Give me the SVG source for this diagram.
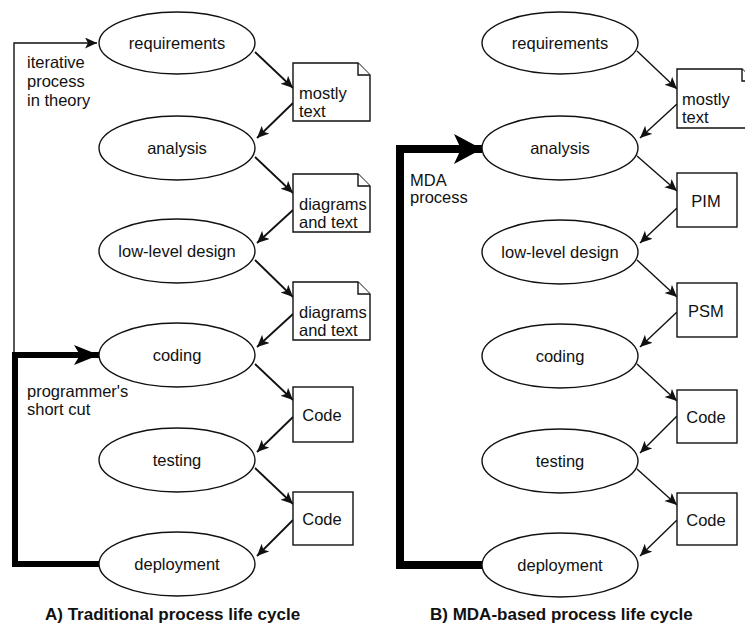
<svg xmlns="http://www.w3.org/2000/svg" width="745" height="631" viewBox="0 0 745 631">
  <defs>
    <style>
      .node ellipse, .node rect, .node path { fill: #fff; stroke: #111; stroke-width: 1.4; }
      .fold { fill: none; stroke: #111; stroke-width: 1.2; }
      text { font-family: "Liberation Sans", Arial, sans-serif; font-size: 16.5px; fill: #111; }
      .mid { text-anchor: middle; }
      .cap { font-weight: bold; font-size: 17px; }
      .flow { fill: none; stroke: #111; stroke-width: 1.8; marker-end: url(#head); }
      .flowB { fill: none; stroke: #111; stroke-width: 1.4; marker-end: url(#head); }
      .loop { fill: none; stroke: #111; stroke-width: 1.4; }
      .thick { fill: none; stroke: #000; stroke-width: 6; }
      .thickB { fill: none; stroke: #000; stroke-width: 8; }
    </style>
    <marker id="head" markerUnits="userSpaceOnUse" markerWidth="14" markerHeight="12" refX="12" refY="5.5" orient="auto">
      <path d="M0,0 L12,5.5 L0,11 L3,5.5 z" fill="#111"/>
    </marker>
    <marker id="headA" markerUnits="userSpaceOnUse" markerWidth="26" markerHeight="22" refX="25" refY="10" orient="auto">
      <path d="M0,0 L25,10 L0,20 L6,10 z" fill="#000"/>
    </marker>
    <marker id="headB" markerUnits="userSpaceOnUse" markerWidth="30" markerHeight="32" refX="28" refY="15" orient="auto">
      <path d="M0,0 L28,15 L0,30 L7,15 z" fill="#000"/>
    </marker>
  </defs>

  <rect width="745" height="631" fill="#fff"/>

  <!-- connectors -->
  <g id="connectors">
    <!-- left column: phase -> artifact -> phase -->
    <path class="flow" d="M255,52 L293,88"/>
    <path class="flow" d="M293,103 L257,138"/>
    <path class="flow" d="M255,157 L293,193"/>
    <path class="flow" d="M293,210 L257,243"/>
    <path class="flow" d="M255,260 L293,297"/>
    <path class="flow" d="M293,314 L257,347"/>
    <path class="flow" d="M255,364 L293,400"/>
    <path class="flow" d="M293,417 L257,452"/>
    <path class="flow" d="M255,468 L293,504"/>
    <path class="flow" d="M293,520 L257,556"/>

    <!-- left loops -->
    <path class="loop" d="M14,355 L14,43 L97,43" marker-end="url(#head)"/>
    <path class="thick" d="M99,564 L15,564 L15,355 L99,355" marker-end="url(#headA)"/>

    <!-- right column -->
    <path class="flowB" d="M637,51 L677,89"/>
    <path class="flowB" d="M677,104 L640,138"/>
    <path class="flowB" d="M637,156 L677,191"/>
    <path class="flowB" d="M677,208 L640,243"/>
    <path class="flowB" d="M637,260 L677,297"/>
    <path class="flowB" d="M677,312 L640,347"/>
    <path class="flowB" d="M637,364 L677,401"/>
    <path class="flowB" d="M677,416 L640,453"/>
    <path class="flowB" d="M637,469 L677,505"/>
    <path class="flowB" d="M677,520 L640,556"/>

    <!-- right loop -->
    <path class="thickB" d="M482,565 L400,565 L400,149 L482,149" marker-end="url(#headB)"/>
  </g>

  <!-- A) traditional life cycle -->
  <g id="a-requirements" class="node"><ellipse cx="177" cy="43" rx="78" ry="31"/><text class="mid" x="177" y="49">requirements</text></g>
  <g id="a-analysis" class="node"><ellipse cx="177" cy="148" rx="78" ry="32"/><text class="mid" x="177" y="154">analysis</text></g>
  <g id="a-design" class="node"><ellipse cx="177" cy="251" rx="78" ry="32"/><text class="mid" x="177" y="257">low-level design</text></g>
  <g id="a-coding" class="node"><ellipse cx="177" cy="355" rx="78" ry="32"/><text class="mid" x="177" y="361">coding</text></g>
  <g id="a-testing" class="node"><ellipse cx="177" cy="460" rx="78" ry="32"/><text class="mid" x="177" y="466">testing</text></g>
  <g id="a-deployment" class="node"><ellipse cx="177" cy="564" rx="78" ry="32"/><text class="mid" x="177" y="570">deployment</text></g>

  <g id="a-doc-text" class="node">
    <path d="M293,63 L358,63 L370,75 L370,121 L293,121 Z"/>
    <path class="fold" d="M358,63 L358,75 L370,75"/>
    <text x="299" y="99">mostly</text><text x="299" y="117">text</text>
  </g>
  <g id="a-doc-diagrams1" class="node">
    <path d="M293,174 L358,174 L370,186 L370,232 L293,232 Z"/>
    <path class="fold" d="M358,174 L358,186 L370,186"/>
    <text x="299" y="210">diagrams</text><text x="299" y="228">and text</text>
  </g>
  <g id="a-doc-diagrams2" class="node">
    <path d="M293,282 L358,282 L370,294 L370,340 L293,340 Z"/>
    <path class="fold" d="M358,282 L358,294 L370,294"/>
    <text x="299" y="318">diagrams</text><text x="299" y="336">and text</text>
  </g>
  <g id="a-code1" class="node"><rect x="293" y="387" width="60" height="55"/><text class="mid" x="322" y="421">Code</text></g>
  <g id="a-code2" class="node"><rect x="293" y="492" width="60" height="53"/><text class="mid" x="322" y="525">Code</text></g>

  <g id="a-notes">
    <text x="27" y="68">iterative</text>
    <text x="27" y="87">process</text>
    <text x="27" y="106">in theory</text>
    <text x="27" y="397">programmer's</text>
    <text x="27" y="415">short cut</text>
    <text class="cap" x="45" y="620">A) Traditional process life cycle</text>
  </g>

  <!-- B) MDA-based life cycle -->
  <g id="b-requirements" class="node"><ellipse cx="560" cy="43" rx="78" ry="31"/><text class="mid" x="560" y="49">requirements</text></g>
  <g id="b-analysis" class="node"><ellipse cx="560" cy="148" rx="78" ry="32"/><text class="mid" x="560" y="154">analysis</text></g>
  <g id="b-design" class="node"><ellipse cx="560" cy="252" rx="78" ry="32"/><text class="mid" x="560" y="258">low-level design</text></g>
  <g id="b-coding" class="node"><ellipse cx="560" cy="356" rx="78" ry="32"/><text class="mid" x="560" y="362">coding</text></g>
  <g id="b-testing" class="node"><ellipse cx="560" cy="461" rx="78" ry="32"/><text class="mid" x="560" y="467">testing</text></g>
  <g id="b-deployment" class="node"><ellipse cx="560" cy="565" rx="78" ry="32"/><text class="mid" x="560" y="571">deployment</text></g>

  <g id="b-doc-text" class="node">
    <path d="M677,69 L742,69 L754,81 L754,128 L677,128 Z"/>
    <path class="fold" d="M742,69 L742,81 L754,81"/>
    <text x="682" y="105">mostly</text><text x="682" y="123">text</text>
  </g>
  <g id="b-pim" class="node"><rect x="677" y="173" width="60" height="54"/><text class="mid" x="706" y="207">PIM</text></g>
  <g id="b-psm" class="node"><rect x="677" y="283" width="60" height="54"/><text class="mid" x="706" y="317">PSM</text></g>
  <g id="b-code1" class="node"><rect x="677" y="390" width="60" height="53"/><text class="mid" x="706" y="423">Code</text></g>
  <g id="b-code2" class="node"><rect x="677" y="493" width="60" height="52"/><text class="mid" x="706" y="526">Code</text></g>

  <g id="b-notes">
    <text x="410" y="186">MDA</text>
    <text x="410" y="203">process</text>
    <text class="cap" x="430" y="620">B) MDA-based process life cycle</text>
  </g>
</svg>
